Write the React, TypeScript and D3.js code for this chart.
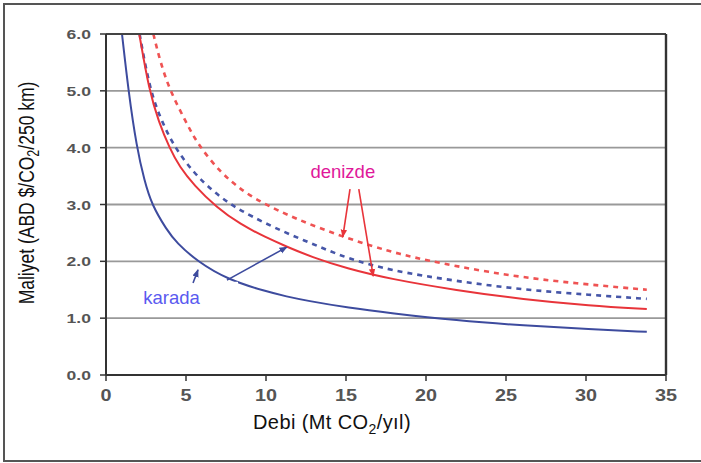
import React from "react";
import * as d3 from "d3";

// karada (onshore) - solid blue
const karadaX = [1.0, 1.4, 1.92, 2.4, 2.85, 3.8, 4.4, 5.7, 7.6, 10, 11.3, 12.5, 15.2, 17.75, 21.9, 26.1, 30.25, 33.8];
const karadaY = [6.0, 5.0, 4.0, 3.42, 3.0, 2.55, 2.33, 2.0, 1.68, 1.47, 1.38, 1.31, 1.18, 1.09, 0.96, 0.87, 0.805, 0.76];

// red solid
const redSolidX = [2.08, 2.7, 3.3, 3.96, 4.6, 5.5, 6.9, 8.4, 10, 11.2, 12.9, 15.1, 17.75, 21.9, 26.1, 30.25, 33.8];
const redSolidY = [6.0, 5.0, 4.45, 4.0, 3.66, 3.34, 2.95, 2.65, 2.42, 2.27, 2.07, 1.87, 1.69, 1.49, 1.33, 1.22, 1.16];

// blue dotted
const blueDotX = [2.1, 2.75, 3.5, 4.3, 5.5, 6.7, 7.7, 8.4, 9.8, 11.5, 13.4, 15.1, 17.75, 21.9, 26.1, 30.25, 33.8];
const blueDotY = [6.0, 5.0, 4.45, 4.0, 3.55, 3.23, 3.02, 2.9, 2.69, 2.47, 2.25, 2.05, 1.84, 1.65, 1.5, 1.41, 1.34];

// red dotted
const redDotX = [2.96, 3.4, 4.0, 5.0, 5.75, 7.2, 8.4, 9.6, 11.9, 14.8, 17.75, 19.8, 24, 28.2, 33.8];
const redDotY = [6.0, 5.5, 5.0, 4.45, 4.05, 3.55, 3.27, 3.05, 2.74, 2.43, 2.17, 2.03, 1.8, 1.64, 1.5];

const yTicks = [0, 1, 2, 3, 4, 5, 6];
const xTicks = [0, 5, 10, 15, 20, 25, 30, 35];

const W = 701;
const H = 463;
const left = 106, right = 666, top = 34, bottom = 375;

export default function App() {
  const x = d3.scaleLinear().domain([0, 35]).range([left, right]);
  const y = d3.scaleLinear().domain([0, 6]).range([bottom, top]);

  const line = (xs: number[], ys: number[]) =>
    d3.line<number>()
      .x((d, i) => x(xs[i]))
      .y((d) => y(d))
      .curve(d3.curveBasis)(ys) || "";

  const series = [
    { xs: redDotX, ys: redDotY, color: "#ef5353", dash: "5,5", w: 2.6 },
    { xs: blueDotX, ys: blueDotY, color: "#4656a8", dash: "5,5", w: 2.6 },
    { xs: redSolidX, ys: redSolidY, color: "#e8343a", dash: null, w: 2 },
    { xs: karadaX, ys: karadaY, color: "#3d4b9e", dash: null, w: 2 },
  ];

  const arrow = (x1: number, y1: number, x2: number, y2: number, color: string, id: string) => (
    <line x1={x(x1)} y1={y(y1)} x2={x(x2)} y2={y(y2)} stroke={color} strokeWidth={1.6} markerEnd={`url(#${id})`} />
  );

  return (
    <svg width={W} height={H} style={{ position: "absolute", left: 0, top: 0, background: "#fff" }}
      fontFamily="Arial, 'Liberation Sans', sans-serif">
      <defs>
        <marker id="ar" viewBox="0 0 10 10" refX="9" refY="5" markerWidth="5" markerHeight="5" orient="auto">
          <path d="M0,1 L10,5 L0,9 z" fill="#e8343a" />
        </marker>
        <marker id="ab" viewBox="0 0 10 10" refX="9" refY="5" markerWidth="5" markerHeight="5" orient="auto">
          <path d="M0,1 L10,5 L0,9 z" fill="#3d4b9e" />
        </marker>
        <clipPath id="plot">
          <rect x={left} y={top} width={right - left} height={bottom - top} />
        </clipPath>
      </defs>
      <rect x={4} y={4} width={W + 10} height={457} fill="none" stroke="#555" strokeWidth={2} />

      {yTicks.filter((t) => t > 0 && t < 6).map((t) => (
        <line key={t} x1={left} x2={right} y1={y(t)} y2={y(t)} stroke="#999" strokeWidth={1.8} />
      ))}

      <g clipPath="url(#plot)">
        {series.map((s, i) => (
          <path key={i} d={line(s.xs, s.ys)} fill="none" stroke={s.color} strokeWidth={s.w}
            strokeDasharray={s.dash || undefined} />
        ))}
      </g>

      {/* frame */}
      <line x1={left} x2={right} y1={top} y2={top} stroke="#444" strokeWidth={2.2} />
      <line x1={right} x2={right} y1={top} y2={bottom} stroke="#333" strokeWidth={2.4} />
      <line x1={left} x2={left} y1={top} y2={bottom} stroke="#333" strokeWidth={2} />
      <line x1={left} x2={right} y1={bottom} y2={bottom} stroke="#333" strokeWidth={2} />

      {yTicks.map((t) => (
        <g key={t}>
          <line x1={left - 6} x2={left} y1={y(t)} y2={y(t)} stroke="#333" strokeWidth={1.5} />
          <text transform={`translate(91,${y(t) + 5}) scale(1.35,1)`} textAnchor="end" fontSize={13}
            fontWeight="bold" fill="#555">
            {t.toFixed(1)}
          </text>
        </g>
      ))}
      {xTicks.map((t) => (
        <g key={t}>
          <line x1={x(t)} x2={x(t)} y1={bottom} y2={bottom + 6} stroke="#333" strokeWidth={1.5} />
          <text transform={`translate(${x(t)},401) scale(1.2,1)`} textAnchor="middle" fontSize={16.5}
            fontWeight="bold" fill="#555">
            {t}
          </text>
        </g>
      ))}

      {/* karada label */}
      <rect x={x(2.44)} y={y(1.64)} width={x(8.25) - x(2.44)} height={y(1.07) - y(1.64)} fill="#fff" />
      <text x={x(4.1)} y={y(1.35) + 6} textAnchor="middle" fontSize={18.5} fill="#5a5af0">karada</text>
      {arrow(7.56, 1.67, 11.3, 2.25, "#3d4b9e", "ab")}
      {arrow(5.44, 1.62, 5.75, 1.85, "#3d4b9e", "ab")}

      {/* denizde label */}
      <text x={x(14.8)} y={y(3.57) + 6} textAnchor="middle" fontSize={18.5} fill="#e0189a">denizde</text>
      {arrow(15.25, 3.27, 14.8, 2.43, "#e8343a", "ar")}
      {arrow(15.8, 3.27, 16.7, 1.74, "#e8343a", "ar")}

      <text x={332} y={429} textAnchor="middle" fontSize={20} fill="#111" letterSpacing={0.4}>
        Debi (Mt CO<tspan fontSize={14} dy={5}>2</tspan><tspan dy={-5}>/yıl)</tspan>
      </text>
      <text transform={`translate(34,193) rotate(-90) scale(1,1.25)`} textAnchor="middle" fontSize={17.5} fill="#111">
        Maliyet (ABD $/CO<tspan fontSize={12.5} dy={4}>2</tspan><tspan dy={-4}>/250 km)</tspan>
      </text>
    </svg>
  );
}
